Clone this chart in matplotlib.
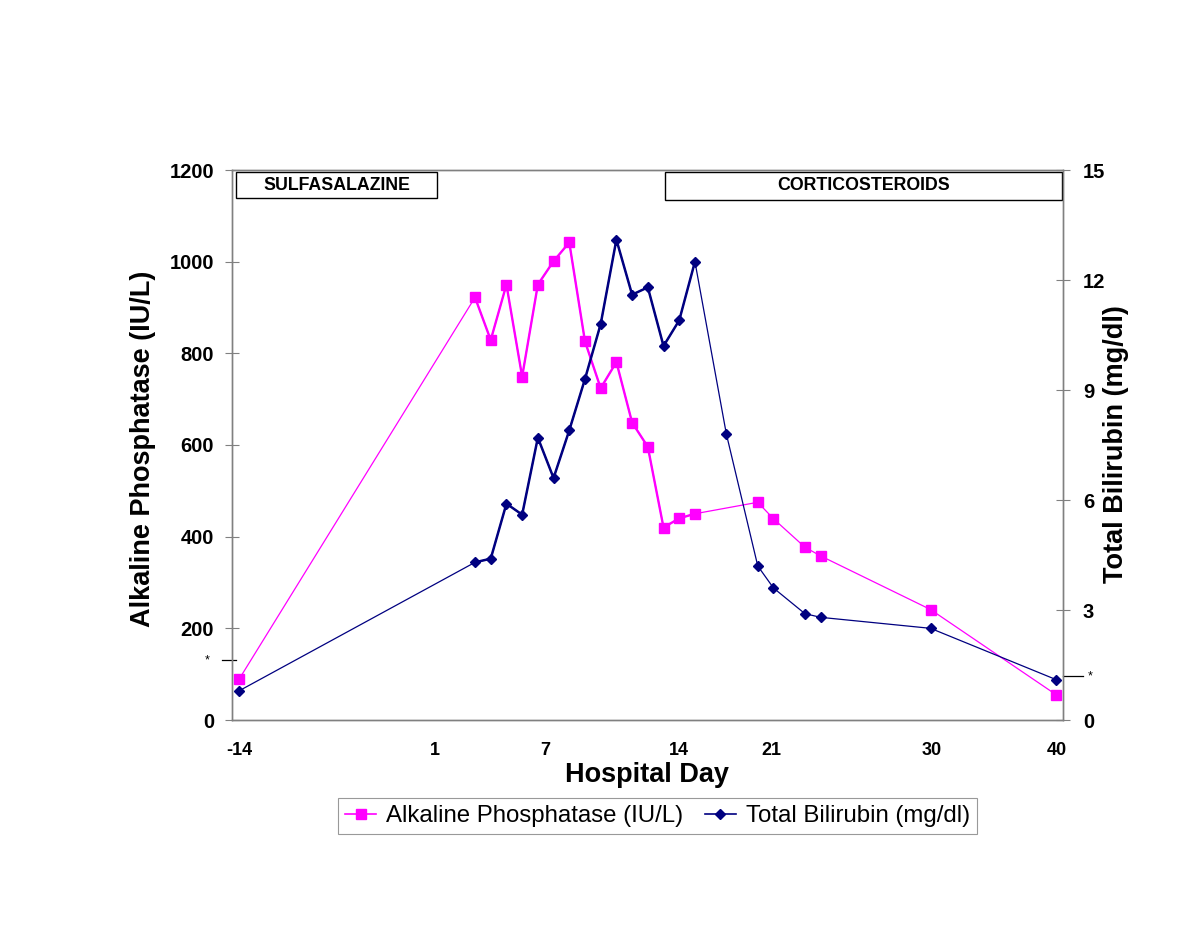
import matplotlib
matplotlib.use("Agg")
import matplotlib.pyplot as plt
from matplotlib.lines import Line2D
from matplotlib.patches import Rectangle

plt.rcParams['font.family'] = ['Liberation Sans', 'DejaVu Sans']

# data
alp_days = [-14, 1, 2, 3, 4, 5, 6, 7, 8, 9, 10, 11, 12, 13, 14, 15, 19, 20, 22, 23, 30, 38]
alp = [90, 922, 829, 950, 749, 950, 1001, 1042, 826, 724, 781, 649, 596, 420, 440, 450,
       475, 439, 377, 358, 241, 55]

bili_days = [-14, 1, 2, 3, 4, 5, 6, 7, 8, 9, 10, 11, 12, 13, 14, 15, 17, 19, 20, 22, 23, 30, 38]
bili = [0.8, 4.3, 4.4, 5.9, 5.6, 7.7, 6.6, 7.9, 9.3, 10.8, 13.1, 11.6, 11.8, 10.2, 10.9, 12.5,
        7.8, 4.2, 3.6, 2.9, 2.8, 2.5, 1.1]

alp_uln = 130     # upper limit of normal, marked with *
bili_uln = 1.2

# tick labels sit where the original chart had them
xtick_pos = [-14, -1.55, 5.5, 14, 19.85, 30.1, 38.05]
xtick_labels = ['-14', '1', '7', '14', '21', '30', '40']

PINK = '#FF00FF'
NAVY = '#000080'
GRAY = '#808080'

fig = plt.figure(figsize=(11.99, 9.26), dpi=100)
ax = fig.add_axes([232 / 1199, 1 - 720 / 926, 831 / 1199, 550 / 926])
ax2 = ax.twinx()

# alkaline phosphatase (left axis)
ax.plot(alp_days, alp, color=PINK, lw=0.9, marker='s', ms=6.8, mec=PINK, mfc=PINK, zorder=3)
ax.plot(alp_days[1:16], alp[1:16], color=PINK, lw=1.7, zorder=2)

# total bilirubin (right axis)
ax2.plot(bili_days, bili, color=NAVY, lw=0.9, marker='D', ms=5.0, mec=NAVY, mfc=NAVY, zorder=3)
ax2.plot(bili_days[1:16], bili[1:16], color=NAVY, lw=1.8, zorder=2)

ax.set_xlim(-14.47, 38.43)
ax.set_ylim(0, 1200)
ax2.set_ylim(0, 15)
ax.set_yticks(range(0, 1201, 200))
ax2.set_yticks(range(0, 16, 3))
ax.set_xticks(xtick_pos)
ax.set_xticklabels(xtick_labels)

for a in (ax, ax2):
    for s in a.spines.values():
        s.set_color(GRAY)
        s.set_linewidth(1.0)

ax.tick_params(axis='x', length=0, pad=16, labelsize=13)
ax.tick_params(axis='y', direction='inout', length=9.5, color=GRAY, pad=8.3, labelsize=14.5)
ax2.tick_params(axis='y', direction='inout', length=9.5, color=GRAY, pad=9.6, labelsize=14.5)
for lab in ax.get_xticklabels() + ax.get_yticklabels() + ax2.get_yticklabels():
    lab.set_fontweight('bold')

# axis titles
fig.text(143 / 1199, 1 - 449 / 926, 'Alkaline Phosphatase (IU/L)', rotation=90,
         ha='center', va='center', fontsize=19.5, fontweight='bold')
fig.text(1116 / 1199, 1 - 444 / 926, 'Total Bilirubin (mg/dl)', rotation=90,
         ha='center', va='center', fontsize=19.5, fontweight='bold')
fig.text(647 / 1199, 1 - 782 / 926, 'Hospital Day', ha='center', va='baseline',
         fontsize=19.5, fontweight='bold')

# treatment boxes
for x0, x1, y0, label, tx in [(0.0054, 0.2461, 0.9485, 'SULFASALAZINE', 0.1258),
                              (0.5210, 0.9988, 0.9455, 'CORTICOSTEROIDS', 0.7605)]:
    ax.add_patch(Rectangle((x0, y0), x1 - x0, 0.9969 - y0, transform=ax.transAxes,
                           fill=True, facecolor='white', edgecolor='black', lw=1.0,
                           zorder=5, clip_on=False))
    ax.text(tx, 0.9727, label, transform=ax.transAxes, ha='center', va='center',
            fontsize=12.8, fontweight='bold', zorder=6)

# upper limit of normal markers
ax.plot([-0.012, 0.005], [alp_uln, alp_uln], color='black', lw=0.9,
        transform=ax.get_yaxis_transform(), clip_on=False)
ax.text(-0.030, alp_uln, '*', transform=ax.get_yaxis_transform(), ha='center',
        va='center', fontsize=9)
ax2.plot([1.0, 1.024], [bili_uln, bili_uln], color='black', lw=0.9,
         transform=ax2.get_yaxis_transform(), clip_on=False)
ax2.text(1.033, bili_uln, '*', transform=ax2.get_yaxis_transform(), ha='center',
         va='center', fontsize=9)

handles = [Line2D([], [], color=PINK, lw=1.2, marker='s', ms=6.8, mec=PINK, mfc=PINK),
           Line2D([], [], color=NAVY, lw=1.2, marker='D', ms=5.0, mec=NAVY, mfc=NAVY)]
leg = fig.legend(handles, ['Alkaline Phosphatase (IU/L)', 'Total Bilirubin (mg/dl)'],
                 loc='center', bbox_to_anchor=(657.5 / 1199, 1 - 816 / 926), ncol=2,
                 fontsize=17.3, frameon=True, fancybox=False, handlelength=1.3,
                 handletextpad=0.4, columnspacing=0.9, borderpad=0.3,
                 borderaxespad=0)
leg.get_frame().set_edgecolor(GRAY)
leg.get_frame().set_linewidth(0.8)

fig.savefig('out.png', dpi=100, facecolor='white')
